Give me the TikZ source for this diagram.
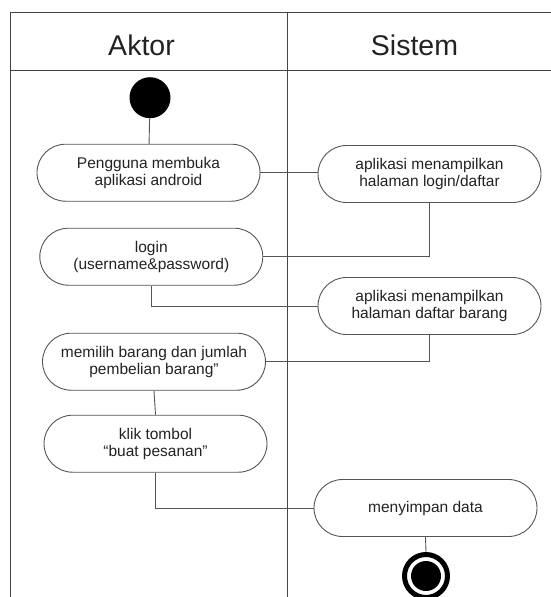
\documentclass[tikz,border=0pt]{standalone}
\usepackage{fontspec}
\setmainfont{Liberation Sans}
\usetikzlibrary{shapes.misc}
\definecolor{lin}{HTML}{555555}
\definecolor{frm}{HTML}{444444}
\definecolor{txt}{HTML}{222222}
\tikzset{
  act/.style={draw=lin, line width=0.9pt, rounded rectangle, minimum width=223pt, minimum height=57pt,
    inner sep=0pt, align=center, text=txt, font=\fontsize{15.5}{17}\selectfont},
  flow/.style={draw=lin, line width=0.9pt},
  frame/.style={draw=frm, line width=1pt},
  head/.style={text=txt, font=\fontsize{28.5}{32}\selectfont}
}
\begin{document}
\begin{tikzpicture}[x=1pt,y=-1pt]
\useasboundingbox (0,0) rectangle (551,597);
\clip (0,0) rectangle (551,597);
% frame
\coordinate (tl) at (10.5,12);
\coordinate (tr) at (551,12);
\coordinate (hl) at (10.5,70);
\coordinate (hr) at (551,70);
\coordinate (bl) at (10.5,597);
\coordinate (dt) at (287,12);
\coordinate (db) at (287,597);
\draw[frame] (tr) -- (tl) -- (bl);
\draw[frame] (hl) -- (hr);
\draw[frame] (dt) -- (db);
\node[head] (aktor) at (141.5,45) {Aktor};
\node[head] (sistem) at (414.5,45) {Sistem};
% start
\node[circle, fill=black, minimum size=41pt, inner sep=0pt] (start) at (150,97.7) {};
% activities
\node[act] (n1) at (148.5,172.7) {Pengguna membuka\\aplikasi android};
\node[act] (n2) at (429.5,174) {aplikasi menampilkan\\halaman login/daftar};
\node[act] (n3) at (151.3,256.7) {login\\(username\&password)};
\node[act] (n4) at (429.5,306) {aplikasi menampilkan\\halaman daftar barang};
\node[act] (n5) at (154,361.7) {memilih barang dan jumlah\\pembelian barang”};
\node[act] (n6) at (155.5,443.7) {klik tombol\\“buat pesanan”};
\node[act] (n7) at (425.5,508) {menyimpan data};
% end
\node[circle, draw=black, line width=5pt, minimum size=43pt, inner sep=0pt] (end) at (426,576) {};
\node[circle, fill=black, minimum size=30pt, inner sep=0pt] (endin) at (end.center) {};
% flows
\draw[flow] (start) -- (n1);
\draw[flow] (n1.east) -- (n1.east -| n2.west);
\draw[flow] (n2.south) |- (n3.east);
\draw[flow] (n3.south) |- (n4.west);
\draw[flow] (n4.south) |- (n5.east);
\draw[flow] (n5.south) -- (n6.north);
\draw[flow] (n6.south) |- (n7.west);
\draw[flow] (n7.south) -- (end.north);
\end{tikzpicture}
\end{document}
